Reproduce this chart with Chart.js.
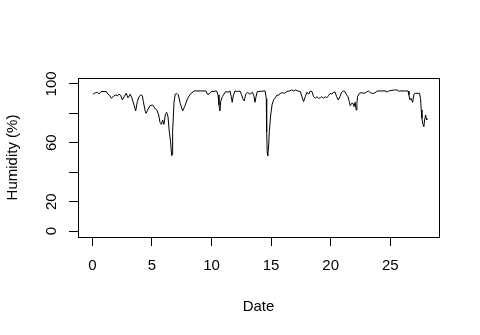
<!DOCTYPE html>
<html>
<head>
<meta charset="utf-8">
<script src="https://cdn.jsdelivr.net/npm/chart.js@4/dist/chart.umd.min.js"></script>
<style>
  html, body { margin: 0; padding: 0; background: #fff; }
  canvas { display: block; }
</style>
</head>
<body>
<canvas id="c" width="480" height="335"></canvas>
<script>
// ---- data ----
const dates = [
  0.06, 0.25, 0.42, 0.56, 0.76, 0.98, 1.17, 1.32, 1.45, 1.6, 1.74, 1.93, 2.1, 2.24, 2.38, 2.52, 2.71, 2.85, 2.99, 3.19,
  3.33, 3.5, 3.64, 3.78, 3.92, 4.1, 4.2, 4.28, 4.45, 4.52, 4.64, 4.84, 5.06, 5.29, 5.4, 5.57, 5.68, 5.8, 5.9, 6.01,
  6.13, 6.24, 6.35, 6.46, 6.57, 6.66, 6.7, 6.74, 6.86, 6.96, 7.1, 7.22, 7.38, 7.58, 7.75, 8.0, 8.28, 8.56, 9.54, 9.65,
  9.79, 9.98, 10.43, 10.55, 10.63, 10.71, 10.77, 10.91, 11.04, 11.19, 11.38, 11.55, 11.66, 11.74, 11.83, 11.97, 12.18, 12.39, 12.53, 12.67,
  12.75, 12.87, 13.01, 13.23, 13.43, 13.56, 13.65, 13.74, 13.84, 14.5, 14.6, 14.63, 14.68, 14.72, 14.8, 14.85, 14.97, 15.08, 15.21, 15.35,
  15.5, 15.63, 15.77, 15.96, 16.14, 16.33, 16.53, 16.75, 16.89, 17.03, 17.25, 17.45, 17.59, 17.73, 17.87, 18.01, 18.15, 18.29, 18.43, 18.57,
  18.71, 18.85, 18.99, 19.13, 19.26, 19.4, 19.54, 19.68, 19.82, 19.96, 20.1, 20.22, 20.38, 20.5, 20.64, 20.78, 20.92, 21.06, 21.2, 21.34,
  21.45, 21.56, 21.64, 21.76, 21.87, 21.96, 22.05, 22.14, 22.2, 22.26, 22.41, 22.6, 22.8, 23.0, 23.15, 23.29, 23.43, 23.62, 23.8, 23.9,
  24.19, 24.66, 24.74, 24.85, 25.37, 25.6, 25.7, 25.79, 26.49, 26.57, 26.65, 26.74, 26.88, 26.99, 27.1, 27.46, 27.54, 27.6, 27.66, 27.74,
  27.82, 27.88, 27.97, 28.02, 28.07
];
const humidity = [
  93, 94, 94.3, 93.2, 94.8, 94.8, 94.8, 93, 92.3, 90.2, 91.3, 92.5, 92, 93, 92.2, 89.1, 91.8, 93.6, 90.5, 93,
  90.2, 85.7, 81.6, 88, 91.3, 92.5, 92, 88, 81.2, 80, 82.3, 85.2, 85.7, 83, 82.5, 78.9, 73.9, 72.5, 75.5, 72.5,
  79.3, 80.7, 77.8, 67.5, 60.7, 51.2, 52, 67.5, 88, 93, 93.5, 92.5, 86.8, 81.6, 84.6, 90.2, 93.6, 95.2, 95.2, 93,
  93, 94.8, 95.2, 92.5, 85.7, 81.6, 88, 91.3, 93, 94.8, 94.3, 95.2, 91.3, 87.5, 92, 95.2, 94.8, 95.2, 92.5, 89.1,
  88.4, 93, 94.3, 93, 94.3, 92, 87.5, 91.3, 94.8, 95.2, 90, 67.5, 52.8, 51.2, 58.5, 67.5, 78.9, 85.7, 89.1, 90.5,
  92.5, 92.2, 93.6, 94, 93.6, 94.8, 95.2, 95.9, 95.2, 95.9, 95.2, 94.8, 91.3, 88, 91.3, 94.3, 93, 95.2, 94.8, 91.3,
  90.2, 91.3, 90.2, 90.6, 91.3, 90.2, 91.3, 90.6, 92, 93.6, 93, 94.3, 94.3, 91.3, 89.1, 91.3, 94.3, 95.2, 94.8, 92.5,
  91.3, 88, 85.2, 86.8, 86.8, 84.6, 87.5, 82.3, 86.8, 91.3, 93.6, 94, 93.6, 94.3, 95.2, 94.3, 93.6, 93.6, 94.3, 95.2,
  95.2, 95.2, 94.3, 95.2, 95.9, 95.9, 94.8, 95.2, 95.2, 92.5, 89.1, 90.2, 87.5, 93, 93.6, 93.6, 90.2, 82.3, 76.6, 72.5,
  70.9, 75.5, 78.9, 76.6, 75.5
];
const xTicks = [0, 5, 10, 15, 20, 25];
const yTicks = [0, 20, 40, 60, 80, 100];
const yTickLabels = ['0', '20', '', '60', '', '100'];
const xTitle = 'Date';
const yTitle = 'Humidity (%)';

// ---- chart ----
const FONT = { family: '"Liberation Sans", Arial, sans-serif', size: 15 };

const boxPlugin = {
  id: 'box',
  afterDraw(chart) {
    const a = chart.chartArea, c = chart.ctx;
    c.save();
    c.strokeStyle = '#000';
    c.lineWidth = 1;
    c.strokeRect(Math.round(a.left) + 0.5, Math.round(a.top) + 0.5,
                 Math.round(a.right) - Math.round(a.left), Math.round(a.bottom) - Math.round(a.top));
    c.restore();
  }
};

new Chart(document.getElementById('c'), {
  type: 'line',
  data: {
    datasets: [{
      data: dates.map((d, i) => ({ x: d, y: humidity[i] })),
      borderColor: '#000',
      borderWidth: 1,
      pointRadius: 0,
      tension: 0,
      fill: false
    }]
  },
  options: {
    responsive: false,
    animation: false,
    devicePixelRatio: 1,
    layout: { padding: { left: 0, top: 78, right: 41, bottom: 0 } },
    plugins: { legend: { display: false }, tooltip: { enabled: false } },
    scales: {
      x: {
        type: 'linear',
        min: -1.2,
        max: 29.09,
        afterBuildTicks: s => { s.ticks = xTicks.map(v => ({ value: v })); },
        afterFit: s => { s.height = 98; },
        grid: { drawOnChartArea: false, drawTicks: true, tickLength: 9, color: '#000', tickColor: '#000' },
        border: { display: true, color: '#000', width: 1 },
        ticks: { font: FONT, color: '#000', padding: 11, maxRotation: 0, autoSkip: false,
                 callback: v => String(v) },
        title: { display: true, text: xTitle, font: FONT, color: '#000', padding: { top: 0, bottom: 19 } }
      },
      y: {
        type: 'linear',
        min: -4,
        max: 104,
        afterBuildTicks: s => { s.ticks = yTicks.map(v => ({ value: v })); },
        afterFit: s => { s.width = 78; },
        grid: { drawOnChartArea: false, drawTicks: true, tickLength: 9, color: '#000', tickColor: '#000' },
        border: { display: true, color: '#000', width: 1 },
        ticks: { font: FONT, color: '#000', padding: 5, minRotation: 90, maxRotation: 90, autoSkip: false,
                 crossAlign: 'center',
                 callback: v => { const i = yTicks.indexOf(v); return i >= 0 ? yTickLabels[i] : ''; } },
        title: { display: true, text: yTitle, font: FONT, color: '#000', padding: { top: 4, bottom: 0 } }
      }
    }
  },
  plugins: [boxPlugin]
});
</script>
</body>
</html>
